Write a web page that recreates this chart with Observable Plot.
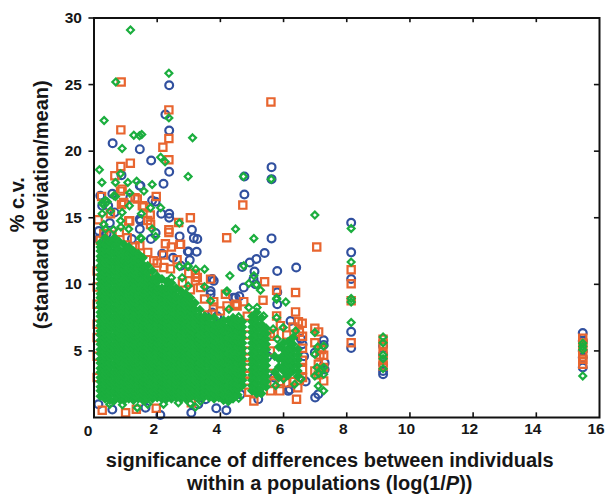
<!DOCTYPE html>
<html>
<head>
<meta charset="utf-8">
<script src="https://cdn.jsdelivr.net/npm/d3@7"></script>
<script src="https://cdn.jsdelivr.net/npm/@observablehq/plot@0.6"></script>
<style>html,body{margin:0;padding:0;background:#fff}</style>
</head>
<body>
<div id="chart"></div>
<script>
const xTickValues = [2,4,6,8,10,12,14,16];
const yTickValues = [5,10,15,20,25,30];
const xTickAll = [2,4,6,8,10,12,14];
const xTitle = "significance of differences between individuals\nwithin a populations (log(1/P))";
const yTitle = "% c.v.\n(standard deviation/mean)";

const bluePoints = [[2.38,24.95],[2.26,22.75],[2.38,21.55],[.59,20.6],[1.45,20.15],[1.81,19.3],[2.38,18.45],[2.2,17.55],[.87,18.2],[1.45,17.4],[4.76,18.1],[5.62,18.8],[5.62,17.9],[4.76,16.75],[5.62,13.45],[3.1,14.1],[3.16,13.47],[3.27,13.4],[2.71,13.6],[2.38,15.3],[2.38,15],[2.13,15.3],[1.84,16.3],[1.45,14.9],[1.45,14.15],[1.95,13.85],[5.4,12.35],[3,12.45],[3.25,12.45],[2.16,12.3],[2.97,12.47],[3.03,11.82],[5.14,11.9],[4.93,11.64],[4.69,11.3],[5.08,10.96],[5.8,11],[6.4,11.26],[4.74,9.76],[3.79,10.26],[3.69,9.26],[5.11,10],[4.48,9],[4.6,9.1],[5.8,8.5],[6.22,7.25],
[.2,16.65],[.58,16.8],[.26,15.9],[.45,15.9],[.65,15.4],[1.47,14.77],[.15,14],[.5,14.6],[1.15,16.5],[1.47,17.4],[1.95,16.2],[.15,13.4],[.4,13.8],[1.2,13.4],[1.8,13.4],
[2.1,.19],[3.08,.36],[3.87,.69],[4.19,.54],[3.53,1.37],[4.64,1.74],[5.2,1.37],[.14,1],[.58,.6],[1.63,.74],[6.15,2],[3.3,1],[2.36,9.38],[3.74,10.4],[3.69,9.5],[3.74,7.88],[3.9,7.6],[4.41,9],[5.05,10.4],[2.5,12],[2.75,11.4],
[8.14,14.62],[8.14,12.4],[8.14,10.4],[8.14,6.43],[8.14,5.22],[9.15,5.37],[9.15,4.75],[9.15,4],[9.15,3.25],[9.15,3.5],[15.47,6.35],[15.47,5.75],[15.47,5],[15.47,4.5],[15.47,3.75],
[7.27,5.8],[7.27,5.45],[6.99,4.87],[7.3,4.1],[7.3,3.6],[7.1,1.75],[7,1.5],[5.8,9.4],[6.6,5.5],[6.65,4.6],[6.7,2.7],[6.55,5.9],[5.5,4.6],[5.7,3],[6.2,2.1]];

const orangePoints = [[.86,25.2],[2.37,23.1],[5.6,23.7],[.85,21.6],[2.37,20.95],[2.18,20.3],[2.37,19.35],[1.15,19.1],[.85,18.85],[.66,18.15],[.84,17],[.24,16.6],[1.97,16.6],[4.71,15.95],[3.05,15],[2.68,14.65],[2.37,14.1],[4.2,13.5],[2.26,13.05],[2.72,13],[2.45,12.8],[1.78,15.2],[1.7,14.8],[1.53,15.9],[1.1,14.75],[.13,14.85],[1.3,16.5],[.87,16],[1.3,12.8],[.89,17.15],[.94,16.15],[1.37,16.4],[1.58,15.8],[1.79,14.5],[.31,13.8],[.52,15.3],[2.37,13.9],[1.13,14.77],
[3.69,10.39],[4.16,9.26],[4.74,8.7],[4.48,8.5],[3.79,8.7],[3.21,10.26],[3.21,10.77],[2.74,13],[5.4,10.2],[5.78,9.56],[6.38,9.38],[5.35,8.81],[6.38,7.93],[5.78,7.63],[6.59,7.08],
[.26,.54],[1,.36],[1.34,.62],[1.97,.69],[3.08,1.11],[5.06,1.24],[5.59,2],[5.88,2],[4.85,2.74],[6.41,1.37],[6.45,2.24],[6.6,3],[6.6,4.3],[.1,11],[.1,9.8],[.1,8.5],[.1,7],[.1,6],[.1,4.6],[.1,3],
[1.89,10.77],[2.21,11.26],[2.42,11.16],[2.63,11.84],[1.89,11.77],[3,10.82],[3.27,10.51],[3.37,9.76],[3.78,8.3],[3.27,7.78],[4.21,8.38],[4.53,8.38],[2.52,8.38],[3.5,8.9],[3.05,9.6],[2.8,10.1],[3.6,7.7],[4,8],[4.85,7.6],
[4.88,5],[4.88,4.5],[4.88,3.7],[4.88,6.2],[4.9,1.9],[4.85,3.2],[5.58,6.1],[5.58,3.3],[5.58,5],
[5.7,6.3],[5.9,6.9],[6.1,6.2],[6.3,6.8],[6.5,6.4],[6.6,6.1],[6.6,5.2],[6.6,3.6],[5.7,2.6],[5.9,2.7],[6.1,2.6],[6.3,2.7],[6.5,2.8],
[8.14,11.09],[8.14,10.04],[8.14,8.76],[8.14,5.62],[9.15,5.88],[9.15,5.5],[9.15,4.8],[9.15,4.3],[9.15,3.87],[15.47,5.95],[15.47,5.6],[15.47,5.2],[15.47,4.75],[15.47,4.37],[15.47,4],
[6.99,6.7],[7.11,6.43],[6.99,5.62],[7.27,4.67],[7.27,3.75],[7.1,4],[7.27,2.75],[6.99,3.5],[7.05,12.8],[6.47,7.2],[7.15,4.7],[7.1,3.2],[7.2,5.1],
[.2,13.3],[.5,13.7],[.8,13.9],[1.05,13.5],[1.45,12.9],[1.7,12.4],[2,11.6],[2.2,12.2]];

const greenPoints = [[1.155,29.1],[2.37,25.85],[.69,25.2],[.32,22.3],[2.37,22.5],[1.26,21.2],[1.44,21.15],[1.51,21.25],[3.12,21],[.89,20.2],[2.11,19.55],[2.25,19.2],[.17,18.6],[.25,17.65],[.68,17.65],[.84,18.3],[1.07,17.65],[1.35,17.75],[1.84,17.5],[1.58,17],[2.98,18.1],[4.73,18.1],[5.61,17.9],[4.48,14.15],[5.06,13.45],[2.7,14.6],[2.11,15.75],[1.79,15.75],[1.5,15.3],[1.12,15.9],[1.13,16.85],[.68,16.6],[.36,16.3],[.26,16.1],[.42,16.2],[.31,15.95],[.63,16.65],[1.84,14.15],[1.5,13.45],[1.95,13.6],[.26,15.3],[.52,15.5],[.89,15.4],[.84,14.77],[.31,14.5],[.36,14.15],[1.1,14.15],[1.47,13.5],[.62,14.1],[.85,14.3],
[2.97,11.39],[3.22,11.14],[3.5,11.14],[4.74,11.39],[4.3,10.64],[5.06,10.64],[4.9,10.06],[5.14,9.96],[5.27,9.56],[4.19,9.44],[5.78,8.88],[5.78,8.96],[6.07,8.68],[3.5,9.81],[3.69,8.76],[4.27,8.13],[4.9,8.26],[5.16,8.26],[5.37,7.63],[5.78,7.5],[3.53,7.56],[4.58,7.56],[4.21,9.5],[2.45,10.5],[2.7,11.34],[2.98,11.34],[2.79,10.5],[2.98,9.88],[2.37,9.38],[2.63,9.5],
[3.21,.79],[3.37,1.24],[4.58,1.44],[1.37,.74],[2.67,1.11],[.5,1],[.9,.95],[1.7,1],[2.2,1],[3.05,1.05],
[8.14,14.2],[8.14,11.67],[8.14,8.93],[8.14,8.68],[8.14,7.13],[9.15,6.05],[9.15,5.62],[9.15,4.7],[9.15,4.42],[9.15,3.67],[15.47,5.58],[15.47,5.33],[15.47,5.08],[15.47,3.12],
[6.99,15.2],[6.99,6.38],[7.08,5.3],[7.27,5.37],[6.99,4.75],[7.06,3.75],[7.27,3.75],[6.99,3.12],[7.27,3.25],[7.1,2.37],[7.27,2],[7.12,3.3],[7.2,3.6],
[5.67,6.65],[5.99,6.75],[6.38,6.5],[5.75,2.4],[6,2.9],[6.35,2.5],[5.8,5.9],[6.55,2.9]];

const greenDenseX = [.2,.35,.5,.65,.8,.95,1.1,1.25,1.4,1.55,1.7,1.85,2,2.15,2.3,2.45,2.6,2.75,2.9,3.05,3.2,3.35,3.5,3.65,3.8,3.95,4.1,4.25,4.4,4.55,4.7,5,5.15,5.3,5.45,5.72,5.85,6,6.15,6.3,6.45];
const greenDenseY = [
[1.6,2,2.3,2.7,3,3.4,3.7,4.1,4.4,4.8,5.1,5.5,5.8,6.2,6.5,6.9,7.2,7.6,7.9,8.3,8.6,9,9.3,9.7,10,10.4,10.7,11.1,11.4,11.8,12.1,12.5,12.8,13.1],
[1.4,1.8,2.1,2.5,2.8,3.2,3.5,3.9,4.2,4.6,4.9,5.3,5.6,6,6.3,6.7,7,7.4,7.7,8.1,8.4,8.8,9.1,9.5,9.8,10.2,10.5,10.9,11.2,11.6,11.9,12.3,12.6,13,13.5],
[1.3,1.7,2,2.4,2.7,3.1,3.4,3.8,4.1,4.5,4.8,5.2,5.5,5.9,6.2,6.6,6.9,7.3,7.6,8,8.3,8.7,9,9.4,9.7,10.1,10.4,10.8,11.1,11.5,11.8,12.2,12.5,12.9,13.2],
[1.3,1.7,2,2.4,2.7,3.1,3.4,3.8,4.1,4.5,4.8,5.2,5.5,5.9,6.2,6.6,6.9,7.3,7.6,8,8.3,8.7,9,9.4,9.7,10.1,10.4,10.8,11.1,11.5,11.8,12.2,12.5,12.9,13.5],
[1.4,1.8,2.1,2.5,2.8,3.2,3.5,3.9,4.2,4.6,4.9,5.3,5.6,6,6.3,6.7,7,7.4,7.7,8.1,8.4,8.8,9.1,9.5,9.8,10.2,10.5,10.9,11.2,11.6,11.9,12.3,12.6,13.2],
[1.3,1.7,2,2.4,2.7,3.1,3.4,3.8,4.1,4.5,4.8,5.2,5.5,5.9,6.2,6.6,6.9,7.3,7.6,8,8.3,8.7,9,9.4,9.7,10.1,10.4,10.8,11.1,11.5,11.8,12.2,12.5,13],
[1.4,1.8,2.1,2.5,2.8,3.2,3.5,3.9,4.2,4.6,4.9,5.3,5.6,6,6.3,6.7,7,7.4,7.7,8.1,8.4,8.8,9.1,9.5,9.8,10.2,10.5,10.9,11.2,11.6,11.9,12.3,12.8],
[1.3,1.7,2,2.4,2.7,3.1,3.4,3.8,4.1,4.5,4.8,5.2,5.5,5.9,6.2,6.6,6.9,7.3,7.6,8,8.3,8.7,9,9.4,9.7,10.1,10.4,10.8,11.1,11.5,11.8,12.2,12.5],
[1.4,1.8,2.1,2.5,2.8,3.2,3.5,3.9,4.2,4.6,4.9,5.3,5.6,6,6.3,6.7,7,7.4,7.7,8.1,8.4,8.8,9.1,9.5,9.8,10.2,10.5,10.9,11.2,11.6,11.9,12.3],
[1.3,1.7,2,2.4,2.7,3.1,3.4,3.8,4.1,4.5,4.8,5.2,5.5,5.9,6.2,6.6,6.9,7.3,7.6,8,8.3,8.7,9,9.4,9.7,10.1,10.4,10.8,11.1,11.5,12],
[1.4,1.8,2.1,2.5,2.8,3.2,3.5,3.9,4.2,4.6,4.9,5.3,5.6,6,6.3,6.7,7,7.4,7.7,8.1,8.4,8.8,9.1,9.5,9.8,10.2,10.5,10.9,11.4],
[1.4,1.7,2,2.4,2.7,3.1,3.4,3.8,4.1,4.5,4.8,5.2,5.5,5.9,6.2,6.6,6.9,7.3,7.6,8,8.3,8.7,9,9.4,9.7,10.1,10.4,11],
[1.5,1.8,2.1,2.5,2.8,3.2,3.5,3.9,4.2,4.6,4.9,5.3,5.6,6,6.3,6.7,7,7.4,7.7,8.1,8.4,8.8,9.1,9.5,9.8,10.2,10.6],
[1.4,1.7,2,2.4,2.7,3.1,3.4,3.8,4.1,4.5,4.8,5.2,5.5,5.9,6.2,6.6,6.9,7.3,7.6,8,8.3,8.7,9,9.4,9.7,10.4],
[1.4,1.8,2.1,2.5,2.8,3.2,3.5,3.9,4.2,4.6,4.9,5.3,5.6,6,6.3,6.7,7,7.4,7.7,8.1,8.4,8.8,9.1,9.5,9.8,10.2],
[1.4,1.7,2,2.4,2.7,3.1,3.4,3.8,4.1,4.5,4.8,5.2,5.5,5.9,6.2,6.6,6.9,7.3,7.6,8,8.3,8.7,9,9.4,9.7,10.1],
[1.5,1.8,2.1,2.5,2.8,3.2,3.5,3.9,4.2,4.6,4.9,5.3,5.6,6,6.3,6.7,7,7.4,7.7,8.1,8.4,8.8,9.1,9.7],
[1.4,1.7,2,2.4,2.7,3.1,3.4,3.8,4.1,4.5,4.8,5.2,5.5,5.9,6.2,6.6,6.9,7.3,7.6,8,8.3,8.7,9,9.5],
[1.4,1.8,2.1,2.5,2.8,3.2,3.5,3.9,4.2,4.6,4.9,5.3,5.6,6,6.3,6.7,7,7.4,7.7,8.1,8.4,8.8,9.3],
[1.5,1.7,2,2.4,2.7,3.1,3.4,3.8,4.1,4.5,4.8,5.2,5.5,5.9,6.2,6.6,6.9,7.3,7.6,8,8.3,8.7,9],
[1.6,1.9,2.1,2.5,2.8,3.2,3.5,3.9,4.2,4.6,4.9,5.3,5.6,6,6.3,6.7,7,7.4,7.7,8.1,8.6],
[1.5,1.8,2.1,2.4,2.7,3.1,3.4,3.8,4.1,4.5,4.8,5.2,5.5,5.9,6.2,6.6,6.9,7.3,7.6,8.1],
[1.6,1.9,2.2,2.5,2.8,3.2,3.5,3.9,4.2,4.6,4.9,5.3,5.6,6,6.3,6.7,7,7.3,7.6],
[1.5,1.9,2.3,2.7,3.1,3.5,3.9,4.3,4.7,5.1,5.5,5.9,6.3,6.7,7.1,7.5],
[1.4,1.8,2.2,2.6,3,3.4,3.8,4.2,4.6,5,5.4,5.8,6.2,6.6,7,7.5],
[1.5,1.9,2.3,2.7,3.1,3.5,3.9,4.3,4.7,5.1,5.5,5.9,6.3,6.7,7.1],
[1.3,1.7,2.1,2.5,2.9,3.3,3.7,4.1,4.5,4.9,5.3,5.7,6.1,6.5,6.9,7.3],
[1.2,1.6,2,2.4,2.8,3.2,3.6,4,4.4,4.8,5.2,5.6,6,6.4,6.8,7.3],
[1.4,1.8,2.2,2.6,3,3.4,3.8,4.2,4.6,5,5.4,5.8,6.2,6.6,7,7.5],
[1.7,2.1,2.5,2.9,3.3,3.7,4.1,4.5,4.9,5.3,5.7,6.1,6.5,6.9,7.3],
[2.4,2.8,3.2,3.6,4,4.4,4.8,5.2,5.6,6,6.4,6.8,7.2],
[2,2.4,2.8,3.2,3.6,4,4.4,4.8,5.2,5.6,6,6.4,6.8,7.2,7.6],
[1.8,2.2,2.6,3,3.4,3.8,4.2,4.6,5,5.4,5.8,6.2,6.6,7,7.4,7.9],
[1.8,2.2,2.6,3,3.4,3.8,4.2,4.6,5,5.4,5.8,6.2,6.6,7,7.5],
[2.3,2.7,3.1,3.5,3.9,4.3,4.7,5.1,5.5,5.9,6.3,6.7],
[3.4,4.6],
[3,3.8,4.4,5.3],
[3.5,3.9,4.3,4.7,5.1,5.6],
[3.2,3.6,4,4.4,4.8,5.2,5.7],
[3.5,3.9,4.3,4.7,5.1,5.5,6],
[3.1,3.5,3.9,4.3,4.7,5.1]
];
const greenDense = greenDenseX.flatMap((x,i)=>greenDenseY[i].map(y=>[x,y]));

const fontFamily = "'Liberation Sans', Arial, sans-serif";
const dot = (pts, symbol, r, stroke, fill="none") => Plot.dot(pts,{x:d=>d[0],y:d=>d[1],symbol,r,stroke,fill,strokeWidth:2.2});

const chart = Plot.plot({
  width:605,height:494,
  marginLeft:93.5,marginRight:6,marginTop:17.5,marginBottom:77,
  style:{fontFamily,fontWeight:"bold",fontSize:"15.5px",background:"#fff",color:"#161616",overflow:"visible"},
  x:{domain:[0,16]},
  y:{domain:[0,30]},
  marks:[
    dot(bluePoints,"circle",3.9,"#31509f"),
    dot(orangePoints,"square",4.1,"#e8652f"),
    dot(greenPoints,"diamond2",3.1,"#1bae3e"),
    dot(greenDense,"diamond2",3.1,"#1bae3e","#1bae3e"),
    Plot.frame({stroke:"#111",strokeWidth:2}),
    Plot.ruleX(xTickAll,{y1:0,y2:.35,stroke:"#111",strokeWidth:1.6}),
    Plot.ruleX(xTickAll,{y1:30,y2:29.65,stroke:"#111",strokeWidth:1.6}),
    Plot.ruleY(yTickValues.slice(0,5),{x1:16,x2:15.84,stroke:"#111",strokeWidth:1.6}),
    Plot.ruleY(yTickValues,{x1:0,x2:-.16,stroke:"#111",strokeWidth:1.6}),
    Plot.axisX({ticks:xTickValues,tickSize:0,tickPadding:5,dx:-3.5,label:null,tickFormat:d=>String(d)}),
    Plot.axisY({ticks:yTickValues,tickSize:0,tickPadding:12,label:null,tickFormat:d=>String(d)}),
    Plot.text(["0"],{x:()=>0,y:()=>0,dx:-6,dy:14,fontSize:15.5,fontWeight:"bold",fill:"#161616"}),
    Plot.text([xTitle],{frameAnchor:"bottom",dx:-17,dy:72,fontSize:20,fontWeight:"bold",lineHeight:1.15,fill:"#161616",lineAnchor:"bottom"}),
    Plot.text([yTitle],{frameAnchor:"left",dx:-66,dy:-13,rotate:-90,fontSize:20,fontWeight:"bold",lineHeight:1.2,fill:"#161616",textAnchor:"middle"})
  ]
});
document.getElementById("chart").appendChild(chart);
d3.select(chart).selectAll("tspan").each(function(){
  const t=this.textContent;
  if(t.startsWith("within a populations")){
    const el=d3.select(this);
    el.text("within a populations (log(1/");
    el.append("tspan").attr("font-style","italic").text("P");
    el.append("tspan").text("))");
  }
});
</script>
</body>
</html>
